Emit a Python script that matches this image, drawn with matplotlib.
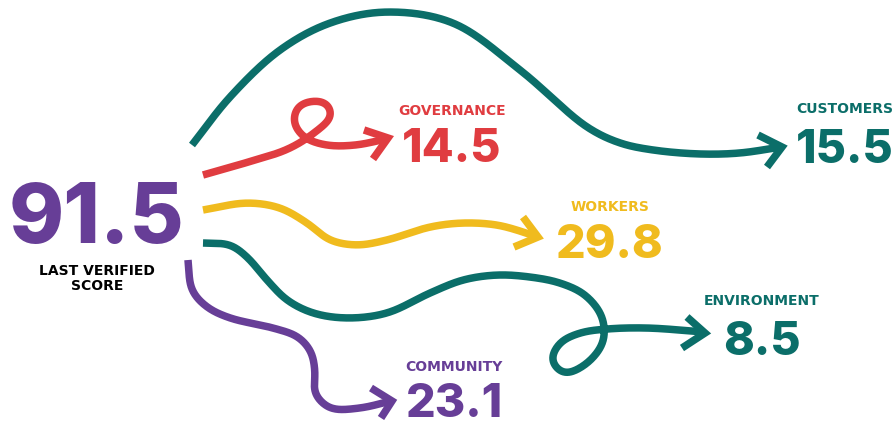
import numpy as np
import matplotlib
matplotlib.use("Agg")
import matplotlib.pyplot as plt

# score breakdown
total_score = 91.5
categories = ["GOVERNANCE", "CUSTOMERS", "WORKERS", "ENVIRONMENT", "COMMUNITY"]
scores = [14.5, 15.5, 29.8, 8.5, 23.1]
colors = ["#e03c40", "#0b6e69", "#f0bb1e", "#0b6e69", "#673e97"]
total_color = "#673e97"

# where each block of text sits (pixel coords, y down): center x, number baseline, label baseline
text_pos = [(452, 162, 115), (845, 163, 113), (610, 258, 211), (762, 355, 305), (454, 417, 371)]

# hand-drawn arrow routes (waypoints) + the chevron (arm, tip, arm)
routes = [
    [(203, 175), (245, 163), (288, 149), (314, 133), (331, 116), (327, 104), (313, 101),
     (298, 107), (294, 122), (304, 137), (326, 145), (356, 145), (386, 139)],
    [(192, 145), (230, 97), (280, 50), (330, 23), (387, 12), (453, 23),
     (520, 70), (587, 127), (620, 143), (653, 150), (700, 154),
     (740, 153), (781, 147)],
    [(203, 210), (247, 203), (280, 208), (307, 223), (330, 240), (357, 245), (387, 240),
     (430, 227), (463, 223), (497, 225), (523, 232), (537, 237)],
    [(203, 243), (230, 245), (247, 257), (267, 280), (287, 300), (313, 313), (347, 318),
     (387, 313), (430, 293), (463, 280), (497, 275), (530, 277), (560, 283), (585, 295),
     (602, 317), (603, 342), (586, 364), (564, 373), (552, 360), (560, 343), (580, 333),
     (607, 329), (647, 328), (704, 332)],
    [(188, 260), (192, 290), (207, 307), (230, 318), (273, 328), (298, 337), (311, 352),
     (315, 372), (315, 393), (330, 408), (360, 408), (391, 401)],
]
heads = [
    [(364, 130), (388, 138), (373, 159)],
    [(758, 135), (782, 147), (767, 167)],
    [(523, 217), (538, 237), (514, 247)],
    [(687, 317), (705, 333), (682, 348)],
    [(371, 388), (392, 401), (381, 418)],
]


def catmull(pts, n=30, alpha=0.5):
    # centripetal catmull-rom through the waypoints
    p = np.asarray(pts, float)
    p = np.vstack([2 * p[0] - p[1], p, 2 * p[-1] - p[-2]])
    out = []
    for i in range(1, len(p) - 2):
        p0, p1, p2, p3 = p[i - 1], p[i], p[i + 1], p[i + 2]
        t0 = 0.0
        t1 = t0 + np.linalg.norm(p1 - p0) ** alpha
        t2 = t1 + np.linalg.norm(p2 - p1) ** alpha
        t3 = t2 + np.linalg.norm(p3 - p2) ** alpha
        t = np.linspace(t1, t2, n, endpoint=False)[:, None]
        a1 = (t1 - t) / (t1 - t0) * p0 + (t - t0) / (t1 - t0) * p1
        a2 = (t2 - t) / (t2 - t1) * p1 + (t - t1) / (t2 - t1) * p2
        a3 = (t3 - t) / (t3 - t2) * p2 + (t - t2) / (t3 - t2) * p3
        b1 = (t2 - t) / (t2 - t0) * a1 + (t - t0) / (t2 - t0) * a2
        b2 = (t3 - t) / (t3 - t1) * a2 + (t - t1) / (t3 - t1) * a3
        out.append((t2 - t) / (t2 - t1) * b1 + (t - t1) / (t2 - t1) * b2)
    out.append(p[-2][None])
    return np.vstack(out)


def smooth(pts, sigma=5.0):
    # spline, resample every pixel of length, then gaussian-blur the wobble out
    xy = catmull(pts)
    s = np.r_[0, np.cumsum(np.hypot(*np.diff(xy, axis=0).T))]
    u = np.arange(0, s[-1], 1.0)
    xy = np.c_[np.interp(u, s, xy[:, 0]), np.interp(u, s, xy[:, 1])]
    k = int(3 * sigma)
    g = np.exp(-0.5 * (np.arange(-k, k + 1) / sigma) ** 2)
    g /= g.sum()
    # pad by point reflection so the ends stay put
    pad = np.r_[2 * xy[0] - xy[k:0:-1], xy, 2 * xy[-1] - xy[-2:-k - 2:-1]]
    return np.c_[np.convolve(pad[:, 0], g, "valid"), np.convolve(pad[:, 1], g, "valid")]


W, H, DPI = 896, 423, 100
fig = plt.figure(figsize=(W / DPI, H / DPI), dpi=DPI)
ax = fig.add_axes([0, 0, 1, 1])
ax.set_xlim(0, W)
ax.set_ylim(H, 0)
ax.axis("off")

lw = 5.4
for route, head, c in zip(routes, heads, colors):
    xy = smooth(route)
    ax.plot(xy[:, 0], xy[:, 1], color=c, lw=lw, solid_capstyle="butt", solid_joinstyle="round")
    hx, hy = zip(*head)
    ax.plot(hx, hy, color=c, lw=lw, solid_capstyle="butt", solid_joinstyle="miter")

# the total on the left
ax.text(97, 243, f"{total_score:.1f}", color=total_color, fontsize=60, fontweight="heavy",
        family="Inter", ha="center", va="baseline")
ax.text(97, 275, "LAST VERIFIED", color="black", fontsize=10, fontweight="semibold",
        family="DejaVu Sans", ha="center", va="baseline")
ax.text(97, 290, "SCORE", color="black", fontsize=10, fontweight="semibold",
        family="DejaVu Sans", ha="center", va="baseline")

for cat, val, c, (x, ynum, ylab) in zip(categories, scores, colors, text_pos):
    ax.text(x, ynum, f"{val:.1f}", color=c, fontsize=33.5, fontweight="heavy",
            family="Inter", ha="center", va="baseline")
    ax.text(x, ylab, cat, color=c, fontsize=10, fontweight="semibold",
            family="DejaVu Sans", ha="center", va="baseline")

fig.savefig("out.png", dpi=DPI, facecolor="white")
